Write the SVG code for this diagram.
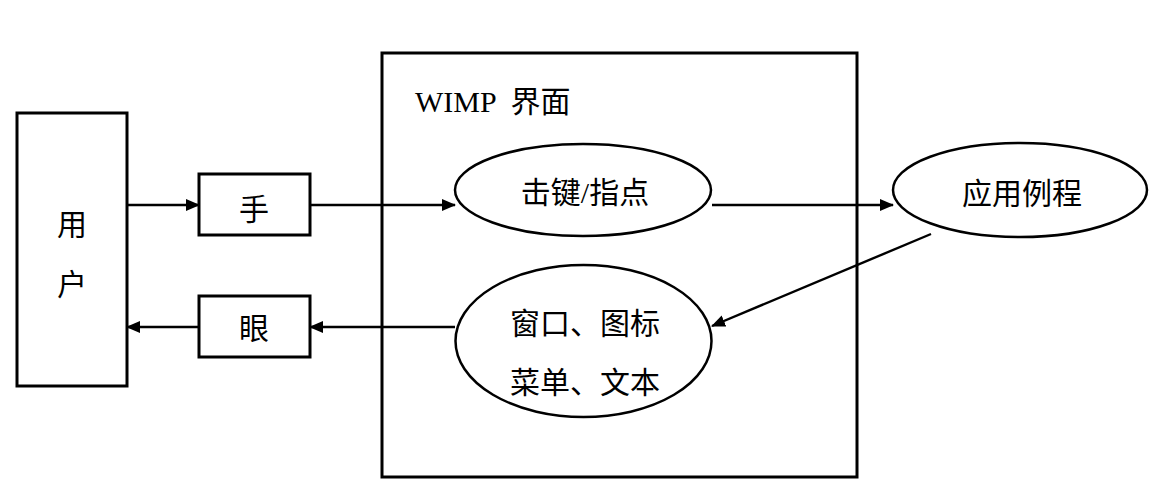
<svg xmlns="http://www.w3.org/2000/svg" width="1153" height="486" viewBox="0 0 1153 486">
<style>
.box{fill:none;stroke:#000;stroke-width:3}
.ell{fill:none;stroke:#000;stroke-width:2.5}
.ln{fill:none;stroke:#000;stroke-width:2.4}
.t{font-family:"Liberation Serif","Noto Sans CJK SC",serif;font-size:30px;fill:#000;text-anchor:middle;dominant-baseline:central}
</style>
<defs>
<marker id="ah" markerWidth="14" markerHeight="12" refX="13" refY="6" orient="auto" markerUnits="userSpaceOnUse">
<path d="M0,0 L14,6 L0,12 Z" fill="#000"/>
</marker>
</defs>
<rect width="1153" height="486" fill="#fff"/>
<g id="wimp">
<rect class="box" x="382" y="53" width="475" height="424"/>
<text class="t" x="415" y="112" style="text-anchor:start;dominant-baseline:alphabetic;font-size:30px" xml:space="preserve">WIMP  界面</text>
</g>
<g id="user">
<rect class="box" x="17" y="113" width="110" height="273"/>
<text class="t" x="72" y="224">用</text>
<text class="t" x="72" y="284">户</text>
</g>
<g id="hand">
<rect class="box" x="199" y="174" width="111" height="61"/>
<text class="t" x="254" y="209">手</text>
</g>
<g id="eye">
<rect class="box" x="199" y="296" width="111" height="61"/>
<text class="t" x="254" y="328">眼</text>
</g>
<g id="input">
<ellipse class="ell" cx="583" cy="190" rx="128" ry="46"/>
<text class="t" x="585" y="192">击键/指点</text>
</g>
<g id="output">
<ellipse class="ell" cx="583.5" cy="341" rx="128" ry="76"/>
<text class="t" x="585" y="323">窗口、图标</text>
<text class="t" x="585" y="382">菜单、文本</text>
</g>
<g id="app">
<ellipse class="ell" cx="1020" cy="190" rx="127" ry="47"/>
<text class="t" x="1022" y="193">应用例程</text>
</g>
<g id="connectors">
<line class="ln" x1="127" y1="205" x2="199" y2="205" marker-end="url(#ah)"/>
<line class="ln" x1="310" y1="205" x2="455" y2="205" marker-end="url(#ah)"/>
<line class="ln" x1="712" y1="205" x2="893" y2="205" marker-end="url(#ah)"/>
<line class="ln" x1="931" y1="234" x2="712" y2="326" marker-end="url(#ah)"/>
<line class="ln" x1="455" y1="327" x2="310" y2="327" marker-end="url(#ah)"/>
<line class="ln" x1="199" y1="327" x2="127" y2="327" marker-end="url(#ah)"/>
</g>
</svg>
